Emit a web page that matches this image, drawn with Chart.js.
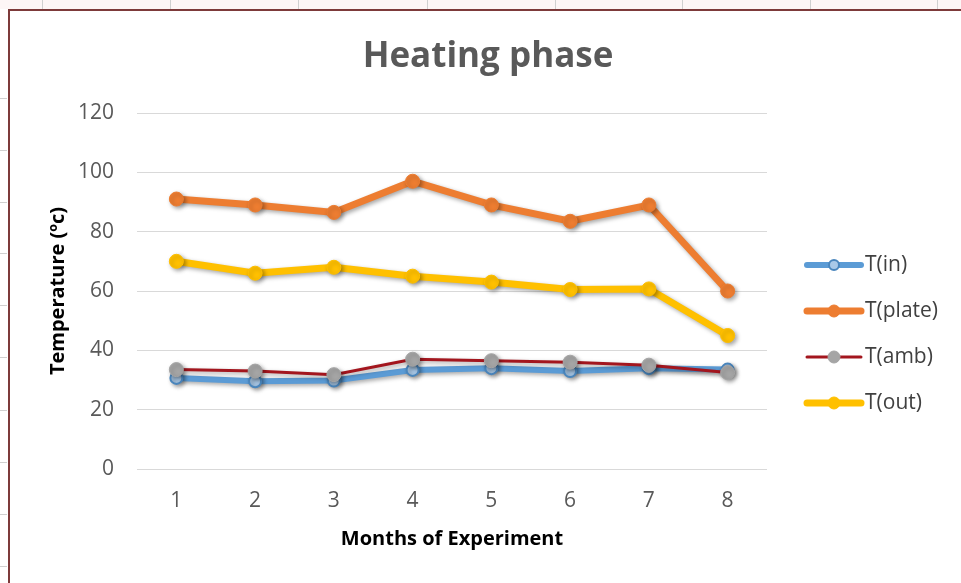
<!DOCTYPE html>
<html>
<head>
<meta charset="utf-8">
<title>Heating phase</title>
<script src="https://cdn.jsdelivr.net/npm/chart.js@4.4.1/dist/chart.umd.min.js"></script>
<style>
    html, body { margin: 0; padding: 0; background: #ffffff; }
    #chart { display: block; }
</style>
</head>
<body>
<canvas id="chart" width="961" height="583"></canvas>
<script>
// Datos
const months = ['1', '2', '3', '4', '5', '6', '7', '8'];
const tIn = [30.7, 29.6, 29.8, 33.4, 34, 33, 34, 33.5];
const tPlate = [91, 89, 86.5, 97, 89, 83.5, 89, 60];
const tAmb = [33.5, 33, 31.8, 37, 36.5, 36, 35, 32.5];
const tOut = [70, 66, 68, 65, 63, 60.5, 60.7, 45];
const yTicks = [0, 20, 40, 60, 80, 100, 120];
const chartTitle = 'Heating phase';

document.addEventListener('DOMContentLoaded', () => {
    Chart.defaults.font.family = "'Open Sans', sans-serif";

    // Marco de la hoja (borde rojo oscuro y marcas de celdas)
    const sheetFrame = {
        id: 'sheetFrame',
        beforeDraw(chart) {
            const ctx = chart.ctx;
            ctx.save();
            ctx.fillStyle = '#ffffff';
            ctx.fillRect(0, 0, chart.width, chart.height);
            ctx.fillStyle = '#fdf6f6';
            ctx.fillRect(0, 0, chart.width, 9);
            ctx.strokeStyle = '#d0d0d0';
            ctx.lineWidth = 1;
            [42, 170, 298, 427, 555, 682, 810, 937].forEach(x => {
                ctx.beginPath(); ctx.moveTo(x + 0.5, 0); ctx.lineTo(x + 0.5, 9); ctx.stroke();
            });
            [98, 150, 202, 253, 305, 357, 410, 462, 514, 566].forEach(y => {
                ctx.beginPath(); ctx.moveTo(0, y + 0.5); ctx.lineTo(7, y + 0.5); ctx.stroke();
            });
            ctx.strokeStyle = '#7d3a3a';
            ctx.lineWidth = 2;
            ctx.beginPath();
            ctx.moveTo(9, chart.height);
            ctx.lineTo(9, 10);
            ctx.lineTo(chart.width, 10);
            ctx.stroke();
            ctx.restore();
        }
    };

    // Título centrado sobre todo el gráfico (no sólo el área de trazado)
    const centerTitle = {
        id: 'centerTitle',
        afterDraw(chart) {
            const ctx = chart.ctx;
            ctx.save();
            ctx.fillStyle = '#595959';
            ctx.font = "bold 35px 'Open Sans', sans-serif";
            ctx.textAlign = 'center';
            ctx.textBaseline = 'middle';
            ctx.fillText(chartTitle, 488, 57);
            ctx.restore();
        }
    };

    // Sombra de las series, como en Excel
    const seriesShadow = {
        id: 'seriesShadow',
        beforeDatasetsDraw(chart) {
            const ctx = chart.ctx;
            ctx.save();
            ctx.shadowColor = 'rgba(0, 0, 0, 0.35)';
            ctx.shadowBlur = 4;
            ctx.shadowOffsetX = 2;
            ctx.shadowOffsetY = 2;
        },
        afterDatasetsDraw(chart) {
            chart.ctx.restore();
        }
    };

    // Leyenda a la derecha: línea con marcador
    const sideLegend = {
        id: 'sideLegend',
        afterDraw(chart) {
            const ctx = chart.ctx;
            const rows = [265, 311, 357, 403];
            chart.data.datasets.forEach((ds, i) => {
                const y = rows[i];
                ctx.save();
                ctx.strokeStyle = ds.borderColor;
                ctx.lineWidth = ds.borderWidth;
                ctx.lineCap = 'round';
                ctx.beginPath();
                ctx.moveTo(807, y);
                ctx.lineTo(861, y);
                ctx.stroke();
                ctx.beginPath();
                ctx.arc(834, y, ds.pointRadius - 1, 0, Math.PI * 2);
                ctx.fillStyle = ds.pointBackgroundColor;
                ctx.fill();
                ctx.lineWidth = ds.pointBorderWidth;
                ctx.strokeStyle = ds.pointBorderColor;
                ctx.stroke();
                ctx.fillStyle = '#404040';
                ctx.font = "21px 'Open Sans', sans-serif";
                ctx.textBaseline = 'middle';
                ctx.fillText(ds.label, 865, y);
                ctx.restore();
            });
        }
    };

    const chartElement = document.getElementById('chart');
    new Chart(chartElement.getContext('2d'), {
        type: 'line',
        data: {
            labels: months,
            datasets: [
                {
                    label: 'T(in)',
                    data: tIn,
                    borderColor: '#5b9bd5',
                    borderWidth: 6,
                    pointRadius: 6,
                    pointBackgroundColor: '#a9c9e8',
                    pointBorderColor: '#4a86bd',
                    pointBorderWidth: 2,
                    order: 4
                },
                {
                    label: 'T(plate)',
                    data: tPlate,
                    borderColor: '#ed7d31',
                    borderWidth: 7,
                    pointRadius: 7,
                    pointBackgroundColor: '#ed7d31',
                    pointBorderColor: '#ed7d31',
                    pointBorderWidth: 1,
                    order: 3
                },
                {
                    label: 'T(amb)',
                    data: tAmb,
                    borderColor: '#a3161e',
                    borderWidth: 3,
                    pointRadius: 7,
                    pointBackgroundColor: '#a5a5a5',
                    pointBorderColor: '#a5a5a5',
                    pointBorderWidth: 1,
                    order: 2
                },
                {
                    label: 'T(out)',
                    data: tOut,
                    borderColor: '#ffc000',
                    borderWidth: 7,
                    pointRadius: 7,
                    pointBackgroundColor: '#ffc000',
                    pointBorderColor: '#ffc000',
                    pointBorderWidth: 1,
                    order: 1
                }
            ]
        },
        options: {
            responsive: false,
            animation: false,
            layout: {
                padding: { left: 10, right: 194, top: 113, bottom: 0 }
            },
            plugins: {
                legend: { display: false },
                tooltip: { enabled: false },
                title: { display: false }
            },
            scales: {
                x: {
                    offset: true,
                    grid: { display: false, drawTicks: false },
                    border: { display: false },
                    ticks: {
                        color: '#595959',
                        font: { size: 21 },
                        padding: 19
                    },
                    title: {
                        display: true,
                        text: 'Months of Experiment',
                        color: '#000000',
                        font: { size: 20, weight: 'bold' },
                        padding: { top: 10, bottom: 32 }
                    },
                    afterFit(scale) { scale.height = 114; }
                },
                y: {
                    min: 0,
                    max: 120,
                    afterBuildTicks(scale) {
                        scale.ticks = yTicks.map(v => ({ value: v }));
                    },
                    grid: { color: '#d9d9d9', lineWidth: 1, drawTicks: false },
                    border: { display: false },
                    ticks: {
                        color: '#595959',
                        font: { size: 21 },
                        padding: 23
                    },
                    title: {
                        display: true,
                        text: 'Temperature (ºc)',
                        color: '#000000',
                        font: { size: 20, weight: 'bold' },
                        padding: { top: 36, bottom: 0 }
                    },
                    afterFit(scale) { scale.width = 127; }
                }
            }
        },
        plugins: [sheetFrame, seriesShadow, sideLegend, centerTitle]
    });
});
</script>
</body>
</html>
